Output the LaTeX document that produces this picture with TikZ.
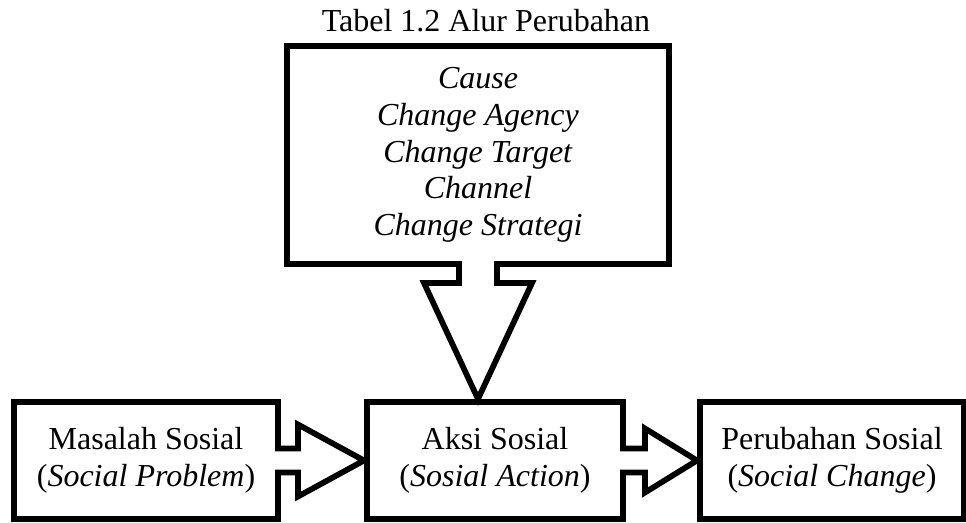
\documentclass[tikz,border=0pt]{standalone}
\usepackage{fontspec}
\setmainfont{Liberation Serif}
\usetikzlibrary{calc}
\begin{document}
\begin{tikzpicture}[x=0.75pt,y=-0.75pt,
  txt/.style={font=\fontsize{24}{27.5}\selectfont},
  box/.style={draw=black, line width=4.3pt, minimum width=#1, minimum height=87.75pt,
    inner sep=0pt, outer sep=0pt, align=center, txt},
  bline/.style={draw=black, line width=4.3pt, line join=miter},
  bfill/.style={fill=white, draw=none}
]
\useasboundingbox (0,0) rectangle (966,523);

\node[txt, anchor=base] (title) at (486,32) {Tabel 1.2 Alur Perubahan};

\node[box=286.5pt, minimum height=163.5pt] (top) at (478,155)
  {\textit{Cause}\\ \textit{Change Agency}\\ \textit{Change Target}\\ \textit{Channel}\\ \textit{Change Strategi}};
\node[box=198pt] (prob) at (146,460.5) {Masalah Sosial\\(\textit{Social Problem})};
\node[box=192pt] (act) at (495,460.5) {Aksi Sosial\\(\textit{Sosial Action})};
\node[box=198pt] (chg) at (832,460.5) {Perubahan Sosial\\(\textit{Social Change})};

% arrow: problem -> action
\coordinate (t1) at ($(act.west)+(-3,0)$);
\fill[white] ($(prob.east)+(-4,-12)$) -- ($(prob.east)+(20,-12)$) -- ($(prob.east)+(20,-36)$) -- (t1)
  -- ($(prob.east)+(20,36)$) -- ($(prob.east)+(20,12)$) -- ($(prob.east)+(-4,12)$) -- cycle;
\draw[bline] ($(prob.east)+(0,-20)$) -- ($(prob.east)+(0,-12)$) -- ($(prob.east)+(20,-12)$)
  -- ($(prob.east)+(20,-36)$) -- (t1) -- ($(prob.east)+(20,36)$) -- ($(prob.east)+(20,12)$)
  -- ($(prob.east)+(0,12)$) -- ($(prob.east)+(0,20)$);

% arrow: action -> change
\coordinate (t2) at ($(chg.west)+(-3,0)$);
\fill[white] ($(act.east)+(-4,-12)$) -- ($(act.east)+(22,-12)$) -- ($(act.east)+(22,-32)$) -- (t2)
  -- ($(act.east)+(22,32)$) -- ($(act.east)+(22,12)$) -- ($(act.east)+(-4,12)$) -- cycle;
\draw[bline] ($(act.east)+(0,-20)$) -- ($(act.east)+(0,-12)$) -- ($(act.east)+(22,-12)$)
  -- ($(act.east)+(22,-32)$) -- (t2) -- ($(act.east)+(22,32)$) -- ($(act.east)+(22,12)$)
  -- ($(act.east)+(0,12)$) -- ($(act.east)+(0,20)$);

% arrow: top box -> action
\coordinate (t3) at ($(top.south |- act.north)+(0,-3)$);
\fill[white] ($(top.south)+(-19,-4)$) -- ($(top.south)+(-19,19)$) -- ($(top.south)+(-54,19)$) -- (t3)
  -- ($(top.south)+(54,19)$) -- ($(top.south)+(19,19)$) -- ($(top.south)+(19,-4)$) -- cycle;
\draw[bline] ($(top.south)+(-27,0)$) -- ($(top.south)+(-19,0)$) -- ($(top.south)+(-19,19)$)
  -- ($(top.south)+(-54,19)$) -- (t3) -- ($(top.south)+(54,19)$) -- ($(top.south)+(19,19)$)
  -- ($(top.south)+(19,0)$) -- ($(top.south)+(27,0)$);
\end{tikzpicture}
\end{document}
